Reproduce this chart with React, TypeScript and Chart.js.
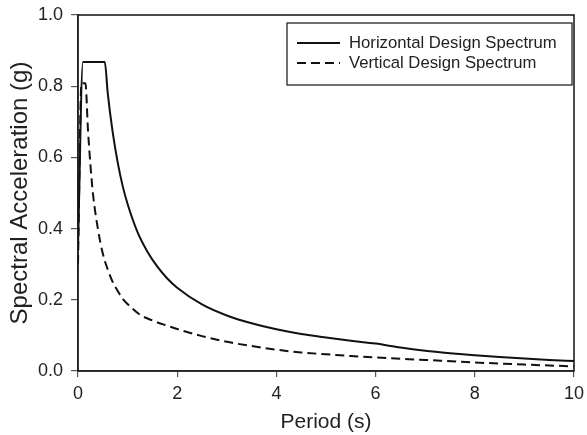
import React, { useEffect, useRef } from "react";
import { Chart, registerables } from "chart.js";

Chart.register(...registerables);

// Horizontal design spectrum (Period s, Spectral acceleration g)
const hPeriod = [0, 0.1, 0.54, 0.6, 0.7, 0.8, 0.9, 1.0, 1.2, 1.4, 1.6, 1.8, 2.0, 2.5, 3.0, 3.5, 4.0, 4.5, 5.0, 5.5, 6.0, 6.5, 7.0, 7.5, 8.0, 8.5, 9.0, 9.5, 10];
const hAccel = [0.35, 0.868, 0.868, 0.78, 0.67, 0.586, 0.52, 0.469, 0.39, 0.335, 0.293, 0.26, 0.234, 0.187, 0.156, 0.134, 0.117, 0.104, 0.094, 0.085, 0.077, 0.066, 0.057, 0.05, 0.044, 0.039, 0.035, 0.031, 0.028];

// Vertical design spectrum
const vPeriod = [0, 0.07, 0.15, 0.2, 0.25, 0.3, 0.4, 0.5, 0.6, 0.7, 0.8, 0.9, 1.0, 1.25, 1.5, 1.85, 2.0, 2.5, 3.0, 3.5, 4.0, 4.5, 5.0, 5.5, 6.0, 7.0, 8.0, 9.0, 10];
const vAccel = [0.3, 0.808, 0.808, 0.68, 0.58, 0.5, 0.4, 0.33, 0.285, 0.25, 0.225, 0.203, 0.188, 0.158, 0.142, 0.125, 0.118, 0.098, 0.082, 0.07, 0.06, 0.052, 0.047, 0.042, 0.038, 0.031, 0.024, 0.018, 0.013];

const seriesLabels = ["Horizontal Design Spectrum", "Vertical Design Spectrum"];
const xTitle = "Period (s)";
const yTitle = "Spectral Acceleration (g)";

const FONT = "'Liberation Sans', Arial, Helvetica, sans-serif";

const framePlugin = {
  id: "frameAndLegend",
  afterDraw(chart: any) {
    const { ctx, chartArea } = chart;
    const { left, top, right, bottom } = chartArea;
    ctx.save();
    ctx.strokeStyle = "#111";
    ctx.lineWidth = 1.5;
    ctx.setLineDash([]);
    ctx.strokeRect(left, top, right - left, bottom - top);

    const bw = 285;
    const bh = 62;
    const bx = right - 2 - bw;
    const by = top + 8;
    ctx.fillStyle = "#fff";
    ctx.fillRect(bx, by, bw, bh);
    ctx.lineWidth = 1.2;
    ctx.strokeStyle = "#111";
    ctx.strokeRect(bx, by, bw, bh);

    const rows = [by + 20, by + 40];
    chart.data.datasets.forEach((ds: any, i: number) => {
      const y = rows[i];
      ctx.beginPath();
      ctx.setLineDash(ds.borderDash || []);
      ctx.lineWidth = 2;
      ctx.strokeStyle = "#111";
      ctx.moveTo(bx + 10, y);
      ctx.lineTo(bx + 53, y);
      ctx.stroke();
      ctx.setLineDash([]);
      ctx.fillStyle = "#222";
      ctx.font = `16.7px ${FONT}`;
      ctx.textBaseline = "middle";
      ctx.textAlign = "left";
      ctx.fillText(ds.label, bx + 62, y);
    });
    ctx.restore();
  },
};

export default function App() {
  const ref = useRef<HTMLCanvasElement | null>(null);

  useEffect(() => {
    if (!ref.current) return;
    const chart = new Chart(ref.current, {
      type: "line",
      data: {
        datasets: [
          {
            label: seriesLabels[0],
            data: hPeriod.map((x, i) => ({ x, y: hAccel[i] })),
            borderColor: "#111",
            borderWidth: 2,
            pointRadius: 0,
            cubicInterpolationMode: "monotone",
            fill: false,
          },
          {
            label: seriesLabels[1],
            data: vPeriod.map((x, i) => ({ x, y: vAccel[i] })),
            borderColor: "#111",
            borderWidth: 2,
            borderDash: [9, 5],
            pointRadius: 0,
            cubicInterpolationMode: "monotone",
            fill: false,
          },
        ],
      },
      options: {
        animation: false,
        responsive: true,
        maintainAspectRatio: false,
        layout: { autoPadding: false, padding: { top: 15, right: 13, left: 0, bottom: 0 } },
        plugins: {
          legend: { display: false },
          tooltip: { enabled: false },
        },
        scales: {
          x: {
            type: "linear",
            min: 0,
            max: 10,
            ticks: {
              stepSize: 2,
              color: "#222",
              font: { family: FONT, size: 18 },
              padding: 6,
              maxRotation: 0,
            },
            grid: {
              display: true,
              drawOnChartArea: false,
              drawTicks: true,
              tickLength: 6,
              color: "#555",
              lineWidth: 1.2,
            },
            border: { display: true, color: "#555", width: 1.5 },
            title: {
              display: true,
              text: xTitle,
              color: "#222",
              font: { family: FONT, size: 21 },
              padding: { top: 2, bottom: 0 },
            },
            afterFit(scale: any) {
              scale.height = 64;
              scale.paddingLeft = 0;
              scale.paddingRight = 0;
            },
          },
          y: {
            type: "linear",
            min: 0,
            max: 1,
            ticks: {
              stepSize: 0.2,
              color: "#222",
              font: { family: FONT, size: 18 },
              padding: 8,
              callback: (v: any) => Number(v).toFixed(1),
            },
            grid: {
              display: true,
              drawOnChartArea: false,
              drawTicks: true,
              tickLength: 7,
              color: "#555",
              lineWidth: 1.2,
            },
            border: { display: true, color: "#555", width: 1.5 },
            title: {
              display: true,
              text: yTitle,
              color: "#222",
              font: { family: FONT, size: 24 },
              padding: { top: 6, bottom: 0 },
            },
            afterFit(scale: any) {
              scale.width = 78;
              scale.paddingTop = 0;
              scale.paddingBottom = 0;
            },
          },
        },
      },
      plugins: [framePlugin],
    });
    return () => chart.destroy();
  }, []);

  return (
    <div style={{ position: "fixed", left: 0, top: 0, width: 587, height: 435, background: "#fff" }}>
      <canvas ref={ref} />
    </div>
  );
}
